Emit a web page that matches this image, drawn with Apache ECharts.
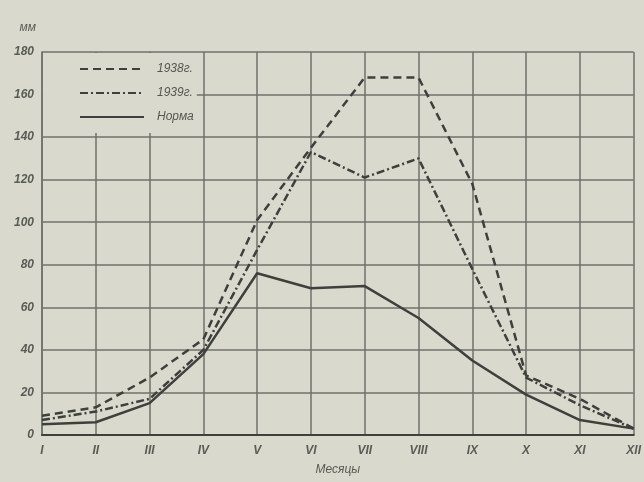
<!DOCTYPE html>
<html>
<head>
<meta charset="utf-8">
<script src="https://cdn.jsdelivr.net/npm/echarts@6/dist/echarts.min.js"></script>
<style>
html,body{margin:0;padding:0;background:#d9dacd;}
#c{width:644px;height:482px;}
</style>
</head>
<body>
<div id="c"></div>
<script>
const months = ['I','II','III','IV','V','VI','VII','VIII','IX','X','XI','XII'];
const yTicks = [0,20,40,60,80,100,120,140,160,180];
const s1938 = [9,13,27,45,101,135,168,168,118,28,17,3];
const s1939 = [7,11,17,40,87,133,121,130,78,27,14,3];
const sNorma = [5,6,15,38,76,69,70,55,35,19,7,3];
const names = ['1938г.','1939г.','Норма'];

const ink = '#3f403c';
const gridC = '#6f706a';
const chart = echarts.init(document.getElementById('c'));
chart.setOption({
  backgroundColor: '#d9dacd',
  animation: false,
  grid: {left: 42, right: 8, top: 52, bottom: 47},
  legend: {
    orient: 'vertical',
    left: 43, top: 53,
    padding: [10, 3, 10, 36],
    itemGap: 12,
    itemWidth: 64,
    itemHeight: 12,
    backgroundColor: '#d9dacd',
    itemStyle: {opacity: 0},
    textStyle: {fontStyle: 'italic', fontSize: 12, color: '#55564f', fontFamily: 'Liberation Sans', padding: [0, 0, 0, 8]},
    data: names
  },
  xAxis: {
    type: 'category',
    data: months,
    boundaryGap: false,
    name: 'Месяцы',
    nameLocation: 'middle',
    nameGap: 29,
    nameTextStyle: {fontStyle: 'italic', fontSize: 12, color: '#5a5b55'},
    axisLine: {lineStyle: {color: ink, width: 2}},
    axisTick: {show: false},
    axisLabel: {fontStyle: 'italic', fontWeight: 'bold', fontSize: 12, color: '#5a5b55', margin: 10},
    splitLine: {show: true, lineStyle: {color: gridC, width: 1.5}}
  },
  yAxis: {
    type: 'value',
    min: 0, max: 180, interval: 20,
    name: 'мм',
    nameLocation: 'end',
    nameGap: 18,
    nameTextStyle: {fontStyle: 'italic', fontSize: 12, color: '#5a5b55', align: 'right', padding: [0, 6, 0, 0]},
    axisLine: {show: true, lineStyle: {color: gridC, width: 1.5}},
    axisTick: {show: false},
    axisLabel: {fontStyle: 'italic', fontWeight: 'bold', fontSize: 12, color: '#5a5b55', margin: 8,
      formatter: v => yTicks.includes(v) ? String(v) : ''},
    splitLine: {show: true, lineStyle: {color: gridC, width: 1.5}}
  },
  series: [
    {name: names[0], type: 'line', data: s1938, symbol: 'none',
     lineStyle: {color: ink, width: 2.5, type: [8, 5]}, itemStyle: {color: ink}},
    {name: names[1], type: 'line', data: s1939, symbol: 'none',
     lineStyle: {color: ink, width: 2.5, type: [8, 3, 2, 3]}, itemStyle: {color: ink}},
    {name: names[2], type: 'line', data: sNorma, symbol: 'none',
     lineStyle: {color: ink, width: 2.5}, itemStyle: {color: ink}}
  ]
});
</script>
</body>
</html>
